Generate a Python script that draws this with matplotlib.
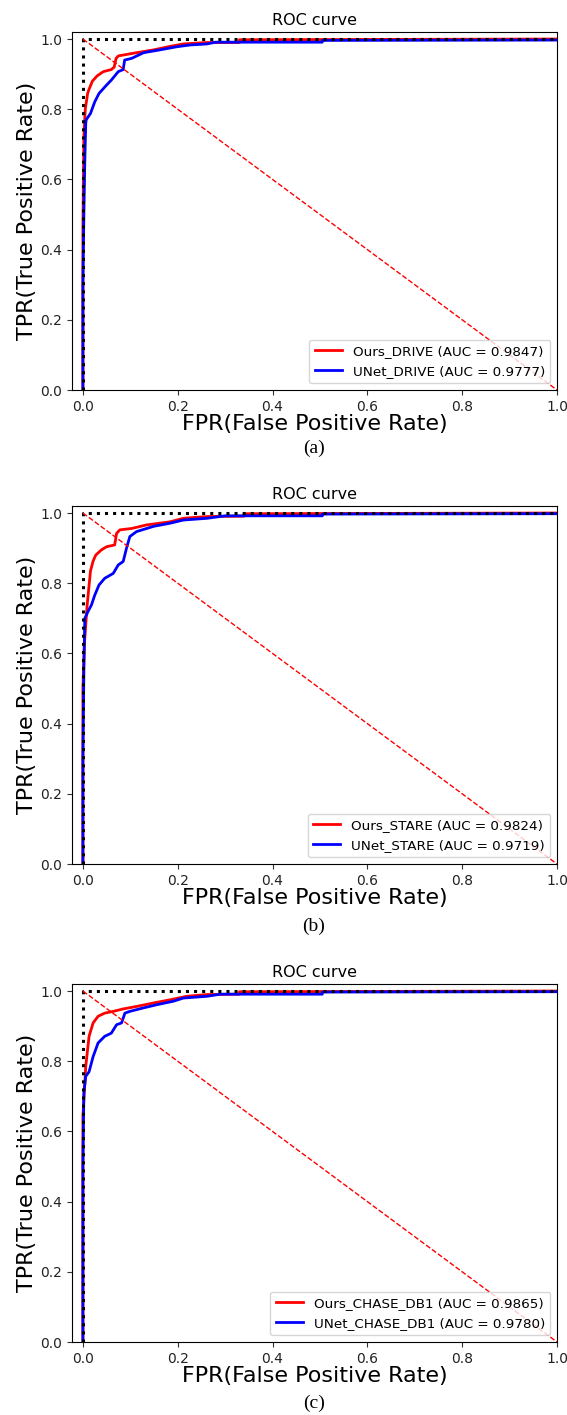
import numpy as np
import matplotlib
matplotlib.use('Agg')
import matplotlib.pyplot as plt

# ROC points (FPR, TPR)
fpr_ours_drive = [0.0, 0.0, 0.001, 0.002, 0.005, 0.010, 0.013, 0.020, 0.030, 0.043, 0.060, 0.066, 0.070, 0.075, 0.113, 0.149, 0.180, 0.212, 0.260, 0.330, 0.330, 1.0]
tpr_ours_drive = [0.0, 0.45, 0.60, 0.72, 0.80, 0.845, 0.857, 0.880, 0.895, 0.907, 0.913, 0.920, 0.945, 0.952, 0.961, 0.969, 0.978, 0.986, 0.990, 0.990, 0.998, 1.0]
fpr_unet_drive = [0.0, 0.0, 0.002, 0.004, 0.006, 0.007, 0.016, 0.025, 0.034, 0.050, 0.060, 0.0745, 0.085, 0.088, 0.103, 0.128, 0.162, 0.198, 0.226, 0.262, 0.280, 0.505, 0.505, 1.0]
tpr_unet_drive = [0.0, 0.30, 0.50, 0.65, 0.76, 0.77, 0.788, 0.821, 0.845, 0.869, 0.883, 0.907, 0.913, 0.940, 0.945, 0.961, 0.969, 0.978, 0.983, 0.986, 0.991, 0.991, 0.996, 0.997]

fpr_ours_stare = [0.0, 0.0, 0.003, 0.009, 0.016, 0.0215, 0.027, 0.039, 0.050, 0.067, 0.071, 0.078, 0.103, 0.134, 0.184, 0.212, 0.262, 0.340, 0.340, 1.0]
tpr_ours_stare = [0.0, 0.50, 0.624, 0.738, 0.835, 0.863, 0.880, 0.895, 0.904, 0.909, 0.942, 0.952, 0.956, 0.966, 0.975, 0.985, 0.990, 0.991, 0.998, 1.0]
fpr_unet_stare = [0.0, 0.0, 0.002, 0.004, 0.011, 0.018, 0.025, 0.034, 0.046, 0.064, 0.0745, 0.085, 0.092, 0.099, 0.113, 0.149, 0.184, 0.212, 0.262, 0.300, 0.505, 0.505, 1.0]
tpr_unet_stare = [0.0, 0.30, 0.55, 0.70, 0.72, 0.738, 0.766, 0.795, 0.814, 0.828, 0.852, 0.862, 0.900, 0.933, 0.947, 0.962, 0.971, 0.980, 0.985, 0.992, 0.992, 0.997, 0.998]

fpr_ours_chase = [0.0, 0.0, 0.002, 0.006, 0.013, 0.0215, 0.032, 0.046, 0.064, 0.085, 0.113, 0.149, 0.184, 0.219, 0.262, 0.330, 0.330, 1.0]
tpr_ours_chase = [0.0, 0.643, 0.690, 0.785, 0.871, 0.909, 0.928, 0.937, 0.942, 0.949, 0.956, 0.966, 0.975, 0.985, 0.990, 0.991, 0.998, 1.0]
fpr_unet_chase = [0.0, 0.0, 0.002, 0.006, 0.013, 0.0215, 0.032, 0.046, 0.060, 0.071, 0.0815, 0.0886, 0.099, 0.128, 0.156, 0.191, 0.212, 0.262, 0.290, 0.505, 0.505, 1.0]
tpr_unet_chase = [0.0, 0.50, 0.709, 0.757, 0.770, 0.813, 0.852, 0.871, 0.880, 0.904, 0.909, 0.937, 0.942, 0.952, 0.961, 0.971, 0.980, 0.985, 0.991, 0.991, 0.997, 0.998]

labels = [('Ours_DRIVE (AUC = 0.9847)', 'UNet_DRIVE (AUC = 0.9777)'),
          ('Ours_STARE (AUC = 0.9824)', 'UNet_STARE (AUC = 0.9719)'),
          ('Ours_CHASE_DB1 (AUC = 0.9865)', 'UNet_CHASE_DB1 (AUC = 0.9780)')]
captions = ['(a)', '(b)', '(c)']

curves = [(fpr_ours_drive, tpr_ours_drive, fpr_unet_drive, tpr_unet_drive),
          (fpr_ours_stare, tpr_ours_stare, fpr_unet_stare, tpr_unet_stare),
          (fpr_ours_chase, tpr_ours_chase, fpr_unet_chase, tpr_unet_chase)]

W, H = 567, 1415
fig = plt.figure(figsize=(W / 100, H / 100), dpi=100)

# axes frame pixel boxes (top, bottom) and caption y
frames = [(32, 390, 448), (506, 864, 926), (984, 1342, 1403)]

for i, (top, bottom, cap_y) in enumerate(frames):
    ax = fig.add_axes([72 / W, 1 - bottom / H, (557 - 72) / W, (bottom - top) / H])
    fo, to, fu, tu = curves[i]
    ax.plot(fo, to, color='red', lw=2, label=labels[i][0])
    ax.plot(fu, tu, color='blue', lw=2, label=labels[i][1])
    ax.plot([0, 0, 1], [0, 1, 1], 'k:', lw=2.2)
    ax.plot([0, 1], [1, 0], 'r--', lw=1)
    ax.set_xlim(-0.023, 1.0)
    ax.set_ylim(0.0, 1.02)
    ax.set_xticks([0.0, 0.2, 0.4, 0.6, 0.8, 1.0])
    ax.set_yticks([0.0, 0.2, 0.4, 0.6, 0.8, 1.0])
    ax.tick_params(labelsize=10, colors='#333333', labelcolor='#222222')
    ax.set_title('ROC curve', fontsize=11.5, pad=5)
    ax.set_xlabel('FPR(False Positive Rate)', fontsize=16, labelpad=0)
    ax.set_ylabel('TPR(True Positive Rate)', fontsize=16, labelpad=2)
    ax.legend(loc='lower right', fontsize=9.7)
    fig.text(314 / W, 1 - cap_y / H, captions[i], ha='center', va='center',
             family='Liberation Serif', fontsize=14)

fig.savefig('out.png', dpi=100)
